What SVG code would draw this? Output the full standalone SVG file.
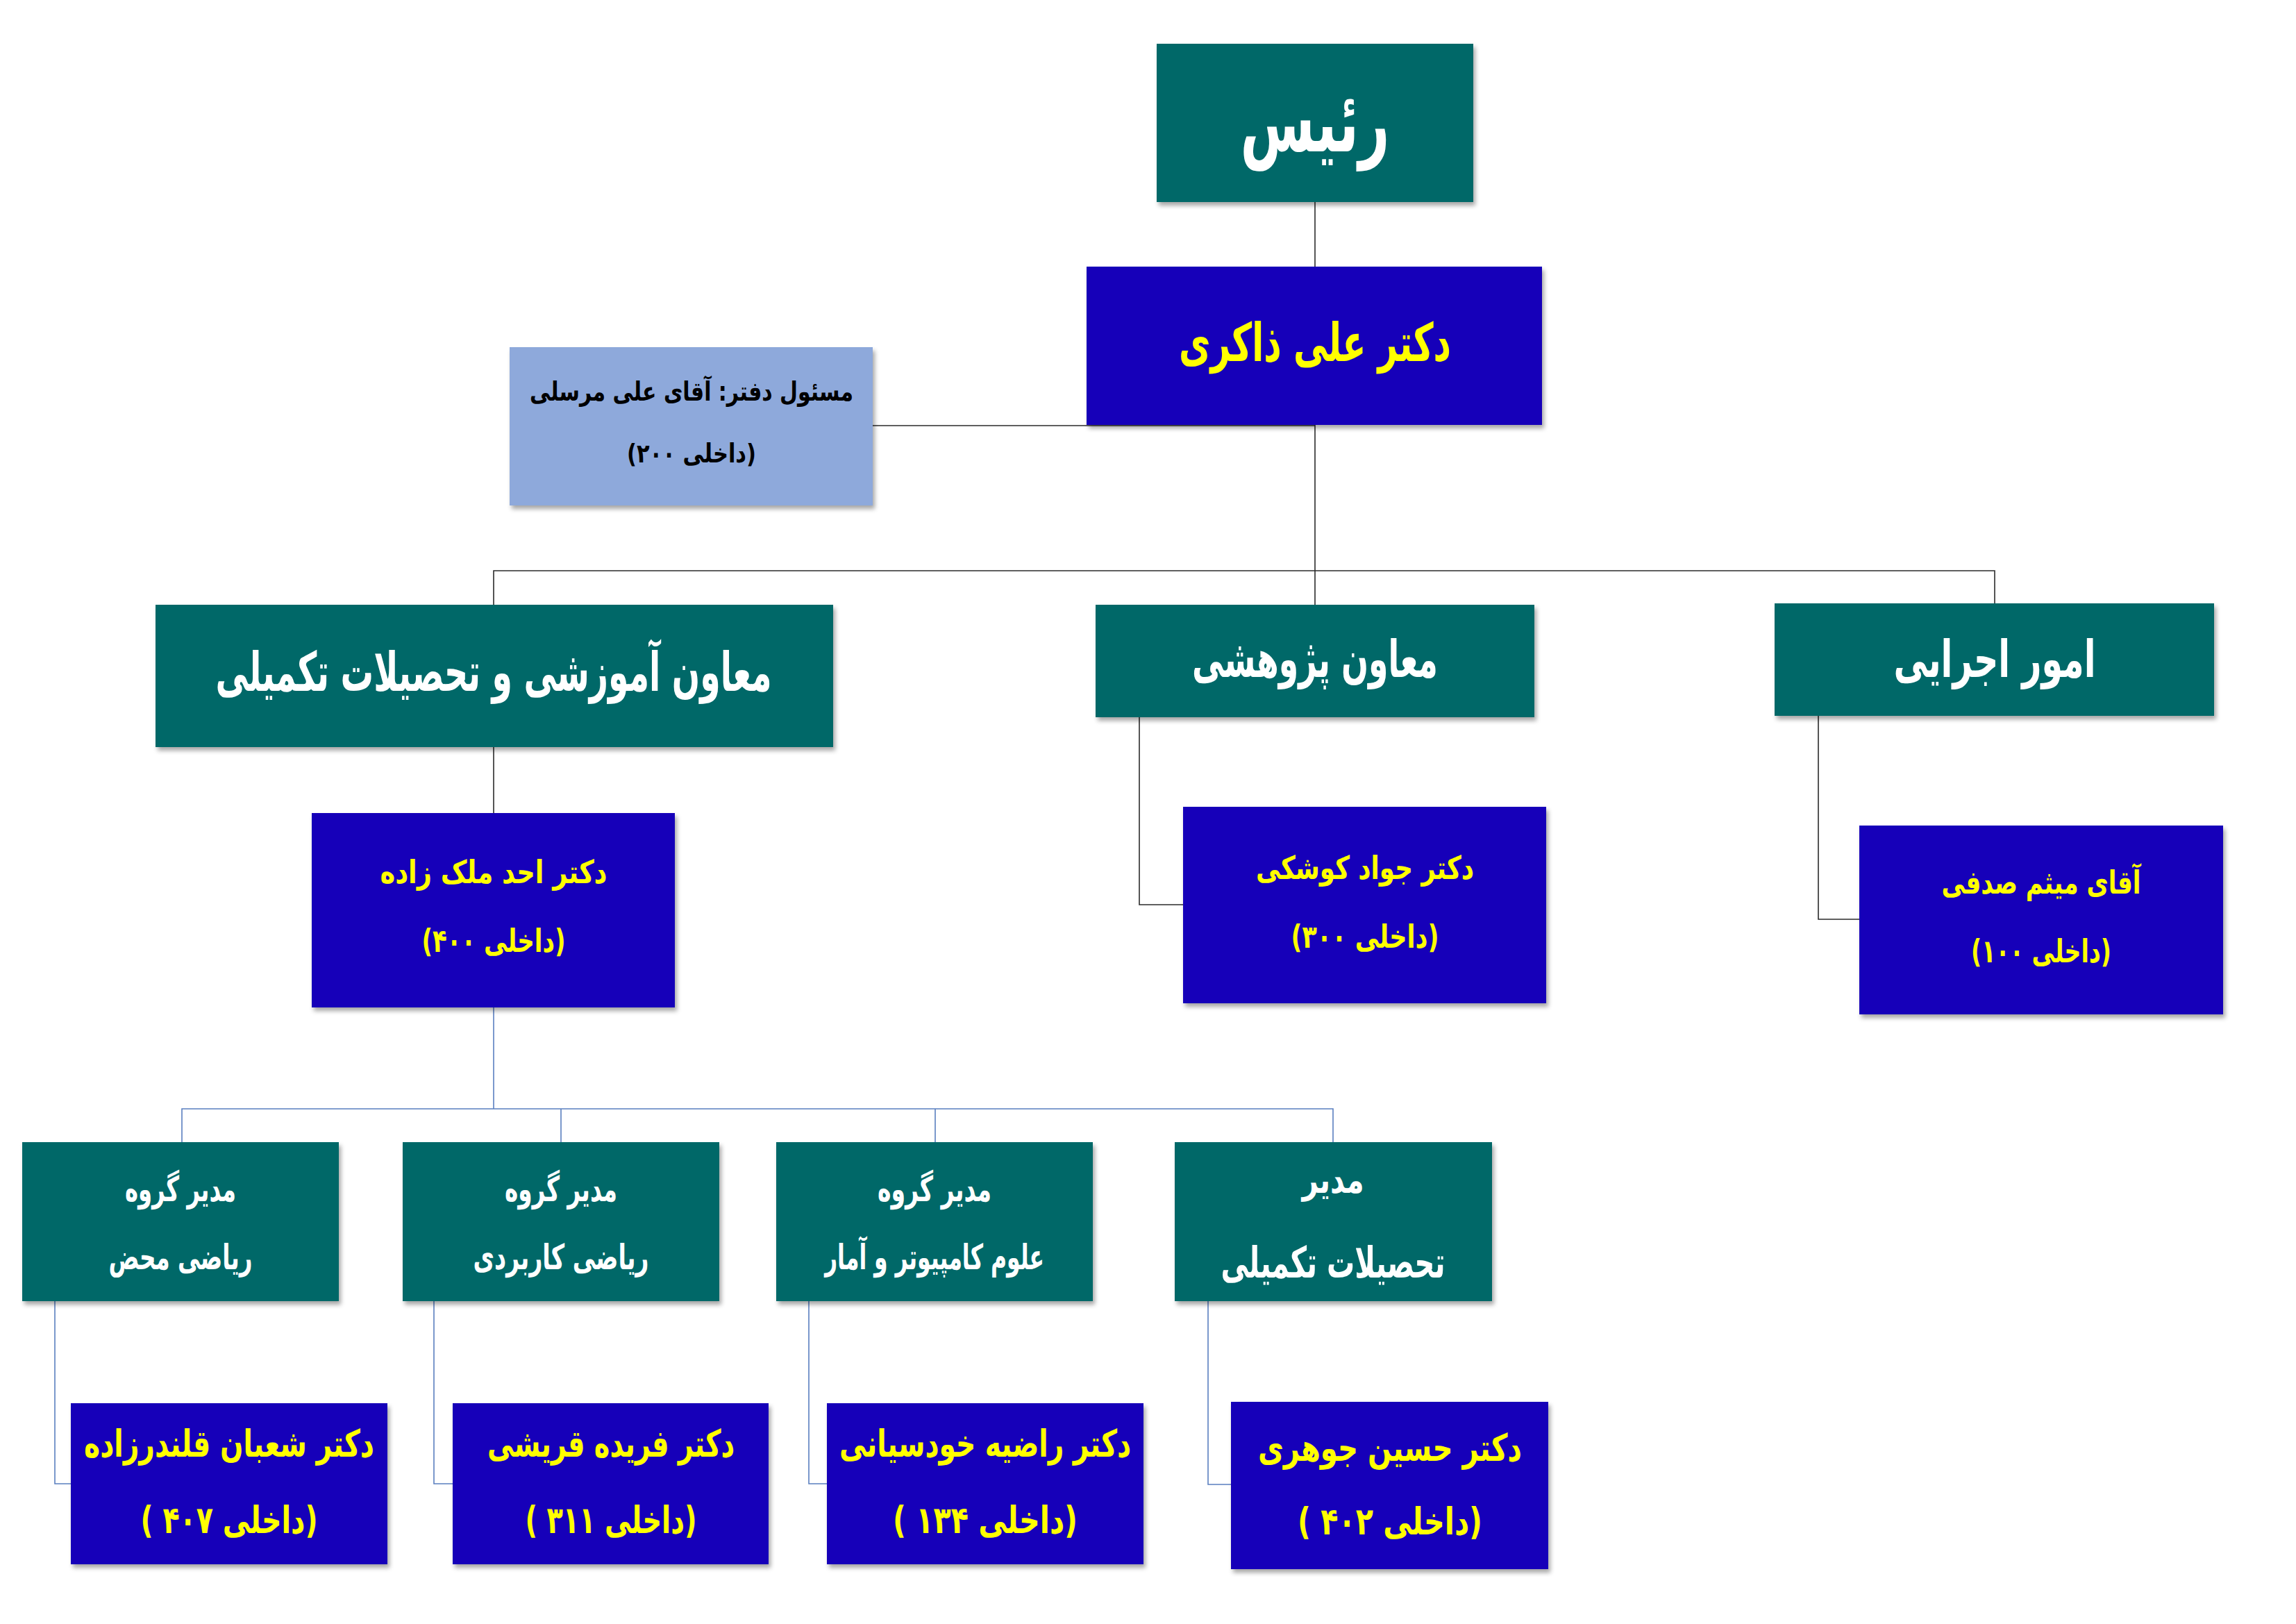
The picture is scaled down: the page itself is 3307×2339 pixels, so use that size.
<svg xmlns="http://www.w3.org/2000/svg" width="3307" height="2339" viewBox="0 0 3307 2339">
<style>
.bg{fill:#ffffff}
.teal{fill:#036767}
.blue{fill:#1304B9}
.lblue{fill:#8EA9DB}
.t{font-family:"DejaVu Sans",sans-serif;font-weight:bold;text-anchor:middle;direction:rtl}
.w{fill:#ffffff}
.y{fill:#FFFF00}
.k{fill:#000000}
.c1{fill:none;stroke:#2b2b2b;stroke-width:1.6}
.c2{fill:none;stroke:#5A7FC0;stroke-width:1.6}
</style>
<defs>
<filter id="sh" x="-5%" y="-5%" width="115%" height="120%">
<feDropShadow dx="3" dy="5" stdDeviation="3" flood-color="#000" flood-opacity="0.35"/>
</filter>
</defs>
<rect class="bg" x="0" y="0" width="3307" height="2339"/>
<g id="connectors">
<path class="c1" d="M1894 291V384"/>
<path class="c1" d="M1894 612V822M1257 613H1894"/>
<path class="c1" d="M711 871V822H2873V869M1894 822V871"/>
<path class="c1" d="M711 1076V1171"/>
<path class="c1" d="M1641 1033V1303H1704"/>
<path class="c1" d="M2619 1031V1324H2678"/>
<path class="c2" d="M711 1451V1597"/>
<path class="c2" d="M262 1645V1597H1920V1645M808 1597V1645M1347 1597V1645"/>
<path class="c2" d="M79 1874V2137H102"/>
<path class="c2" d="M625 1874V2137H652"/>
<path class="c2" d="M1165 1874V2137H1191"/>
<path class="c2" d="M1740 1874V2138H1773"/>
</g>
<g id="n-raees">
<rect class="teal" filter="url(#sh)" x="1666" y="63" width="456" height="228"/>
<text class="t w" x="1894" y="218" font-size="120" textLength="215" lengthAdjust="spacingAndGlyphs">رئیس</text>
</g>
<g id="n-zakeri">
<rect class="blue" filter="url(#sh)" x="1565" y="384" width="656" height="228"/>
<text class="t y" x="1894" y="520" font-size="76" textLength="392" lengthAdjust="spacingAndGlyphs">دکتر علی ذاکری</text>
</g>
<g id="n-office">
<rect class="lblue" filter="url(#sh)" x="734" y="500" width="523" height="228"/>
<text class="t k" x="996" y="577" font-size="38" textLength="466" lengthAdjust="spacingAndGlyphs">مسئول دفتر: آقای علی مرسلی</text>
<text class="t k" x="996" y="666" font-size="38" textLength="186" lengthAdjust="spacingAndGlyphs">(داخلی ۲۰۰)</text>
</g>
<g id="n-vp-edu">
<rect class="teal" filter="url(#sh)" x="224" y="871" width="976" height="205"/>
<text class="t w" x="711" y="995" font-size="78" textLength="801" lengthAdjust="spacingAndGlyphs">معاون آموزشی و تحصیلات تکمیلی</text>
</g>
<g id="n-vp-res">
<rect class="teal" filter="url(#sh)" x="1578" y="871" width="632" height="162"/>
<text class="t w" x="1894" y="975" font-size="74" textLength="354" lengthAdjust="spacingAndGlyphs">معاون پژوهشی</text>
</g>
<g id="n-exec">
<rect class="teal" filter="url(#sh)" x="2556" y="869" width="633" height="162"/>
<text class="t w" x="2873" y="975" font-size="74" textLength="291" lengthAdjust="spacingAndGlyphs">امور اجرایی</text>
</g>
<g id="n-malekzadeh">
<rect class="blue" filter="url(#sh)" x="449" y="1171" width="523" height="280"/>
<text class="t y" x="711" y="1272" font-size="46" textLength="327" lengthAdjust="spacingAndGlyphs">دکتر احد ملک زاده</text>
<text class="t y" x="711" y="1371" font-size="46" textLength="207" lengthAdjust="spacingAndGlyphs">(داخلی ۴۰۰)</text>
</g>
<g id="n-koushki">
<rect class="blue" filter="url(#sh)" x="1704" y="1162" width="523" height="283"/>
<text class="t y" x="1966" y="1266" font-size="46" textLength="314" lengthAdjust="spacingAndGlyphs">دکتر جواد کوشکی</text>
<text class="t y" x="1966" y="1365" font-size="46" textLength="213" lengthAdjust="spacingAndGlyphs">(داخلی ۳۰۰)</text>
</g>
<g id="n-sadafi">
<rect class="blue" filter="url(#sh)" x="2678" y="1189" width="524" height="272"/>
<text class="t y" x="2940" y="1287" font-size="46" textLength="287" lengthAdjust="spacingAndGlyphs">آقای میثم صدفی</text>
<text class="t y" x="2940" y="1386" font-size="46" textLength="202" lengthAdjust="spacingAndGlyphs">(داخلی ۱۰۰)</text>
</g>
<g id="n-math-pure">
<rect class="teal" filter="url(#sh)" x="32" y="1645" width="456" height="229"/>
<text class="t w" x="260" y="1730" font-size="50" textLength="160" lengthAdjust="spacingAndGlyphs">مدیر گروه</text>
<text class="t w" x="260" y="1828" font-size="50" textLength="207" lengthAdjust="spacingAndGlyphs">ریاضی محض</text>
</g>
<g id="n-math-applied">
<rect class="teal" filter="url(#sh)" x="580" y="1645" width="456" height="229"/>
<text class="t w" x="808" y="1730" font-size="50" textLength="162" lengthAdjust="spacingAndGlyphs">مدیر گروه</text>
<text class="t w" x="808" y="1828" font-size="50" textLength="253" lengthAdjust="spacingAndGlyphs">ریاضی کاربردی</text>
</g>
<g id="n-cs">
<rect class="teal" filter="url(#sh)" x="1118" y="1645" width="456" height="229"/>
<text class="t w" x="1346" y="1730" font-size="50" textLength="164" lengthAdjust="spacingAndGlyphs">مدیر گروه</text>
<text class="t w" x="1346" y="1828" font-size="50" textLength="316" lengthAdjust="spacingAndGlyphs">علوم کامپیوتر و آمار</text>
</g>
<g id="n-grad">
<rect class="teal" filter="url(#sh)" x="1692" y="1645" width="457" height="229"/>
<text class="t w" x="1920" y="1718" font-size="54" textLength="89" lengthAdjust="spacingAndGlyphs">مدیر</text>
<text class="t w" x="1920" y="1840" font-size="62" textLength="323" lengthAdjust="spacingAndGlyphs">تحصیلات تکمیلی</text>
</g>
<g id="n-ghalandarzadeh">
<rect class="blue" filter="url(#sh)" x="102" y="2021" width="456" height="232"/>
<text class="t y" x="330" y="2098" font-size="54" textLength="418" lengthAdjust="spacingAndGlyphs">دکتر شعبان قلندرزاده</text>
<text class="t y" x="330" y="2208" font-size="54" textLength="255" lengthAdjust="spacingAndGlyphs">(داخلی ۴۰۷ )</text>
</g>
<g id="n-ghoreishi">
<rect class="blue" filter="url(#sh)" x="652" y="2021" width="455" height="232"/>
<text class="t y" x="880" y="2098" font-size="54" textLength="356" lengthAdjust="spacingAndGlyphs">دکتر فریده قریشی</text>
<text class="t y" x="880" y="2208" font-size="54" textLength="247" lengthAdjust="spacingAndGlyphs">(داخلی ۳۱۱ )</text>
</g>
<g id="n-khodsiani">
<rect class="blue" filter="url(#sh)" x="1191" y="2021" width="456" height="232"/>
<text class="t y" x="1419" y="2098" font-size="54" textLength="420" lengthAdjust="spacingAndGlyphs">دکتر راضیه خودسیانی</text>
<text class="t y" x="1419" y="2208" font-size="54" textLength="266" lengthAdjust="spacingAndGlyphs">(داخلی ۱۳۴  )</text>
</g>
<g id="n-johari">
<rect class="blue" filter="url(#sh)" x="1773" y="2019" width="457" height="241"/>
<text class="t y" x="2002" y="2104" font-size="54" textLength="380" lengthAdjust="spacingAndGlyphs">دکتر حسین جوهری</text>
<text class="t y" x="2002" y="2210" font-size="54" textLength="266" lengthAdjust="spacingAndGlyphs">(داخلی ۴۰۲ )</text>
</g>
</svg>
